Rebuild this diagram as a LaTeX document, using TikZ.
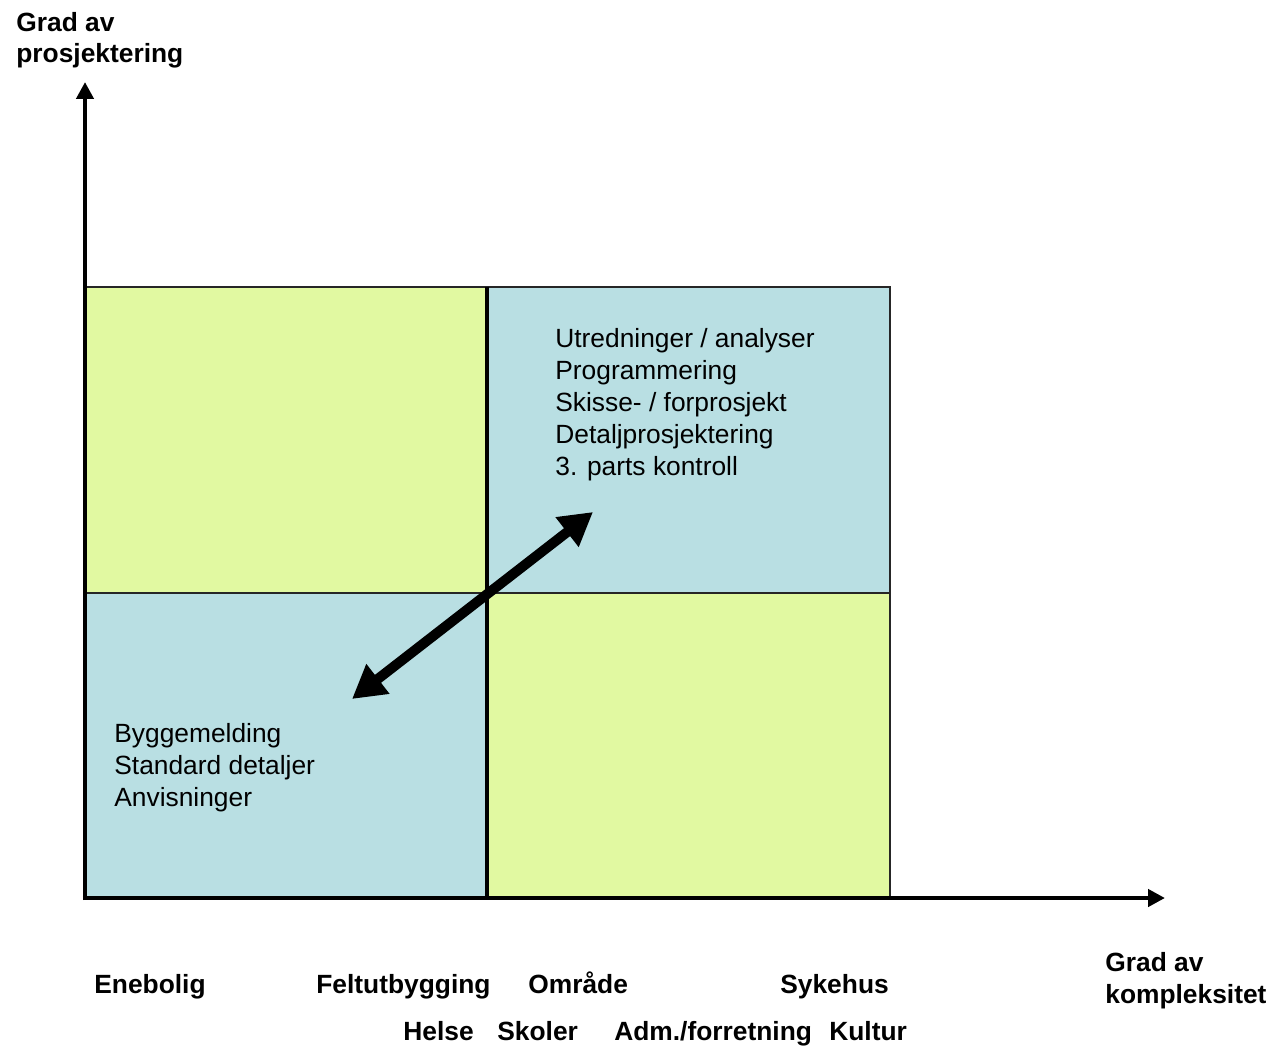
\documentclass[tikz,border=0pt]{standalone}
\usepackage{fontspec}
\setmainfont{Liberation Sans}
\usetikzlibrary{arrows.meta}
\definecolor{lysgul}{HTML}{E1F9A1}
\definecolor{lysblaa}{HTML}{B9DFE3}

\tikzset{
    tekst/.style={anchor=base west, inner sep=0pt, align=left, font=\fontsize{15}{18.14}\selectfont},
    fet/.style={anchor=base west, inner sep=0pt, align=left, font=\fontsize{15}{18.14}\selectfont\bfseries},
    akse/.style={line width=2.6pt, -{Triangle[length=9.6pt, width=9.6pt]}},
    dobbelpil/.style={line width=5.7pt, {Triangle[length=18.7pt, width=20.2pt]}-{Triangle[length=18.7pt, width=20.2pt]}},
    kant/.style={line width=0.8pt, draw=black!85}
}

\begin{document}
\begin{tikzpicture}[x=0.02cm, y=-0.02cm]
        \useasboundingbox (0,0) rectangle (1270,1047);

        % feltene
        \fill[lysgul] (85,287) rectangle (487,593);
        \fill[lysblaa] (487,287) rectangle (890,593);
        \fill[lysblaa] (85,593) rectangle (487,898);
        \fill[lysgul] (487,593) rectangle (890,898);
        \draw[kant] (85,287) rectangle (890,898);
        \draw[kant, line width=1.1pt] (85,593) -- (890,593);
        \draw[line width=2pt] (487,287) -- (487,898);

        % aksene
        \coordinate (O) at (85,898);
        \coordinate (Ytopp) at (85,82);
        \coordinate (Xende) at (1165,898);
        \draw[akse] ([yshift=-1.2pt]O) -- (Ytopp);
        \draw[akse] ([xshift=-1.2pt]O) -- (Xende);

        % nodene har grunnlinjen til siste linje
        \node[fet] (Yakse) at (16,63) {Grad av\\prosjektering};
        \node[fet] (Xakse) at (1105,1003) {Grad av\\kompleksitet};

        % tekst i feltene
        \node[tekst] (Stor) at (555,475) {Utredninger / analyser\\Programmering\\Skisse- / forprosjekt\\Detaljprosjektering\\3. parts kontroll};
        \node[tekst] (Liten) at (114,806) {Byggemelding\\Standard detaljer\\Anvisninger};

        % pilen
        \coordinate (PilA) at (352,699);
        \coordinate (PilB) at (593,512);
        \draw[dobbelpil] (PilA) -- (PilB);

        % byggtyper
        \node[fet] (Enebolig) at (94,993) {Enebolig};
        \node[fet] (Felt) at (316,993) {Feltutbygging};
        \node[fet] (Omraade) at (528,993) {Område};
        \node[fet] (Sykehus) at (780,993) {Sykehus};
        \node[fet] (Helse) at (403,1040) {Helse};
        \node[fet] (Skoler) at (497,1040) {Skoler};
        \node[fet] (Adm) at (614,1040) {Adm./forretning};
        \node[fet] (Kultur) at (829,1040) {Kultur};
\end{tikzpicture}
\end{document}
